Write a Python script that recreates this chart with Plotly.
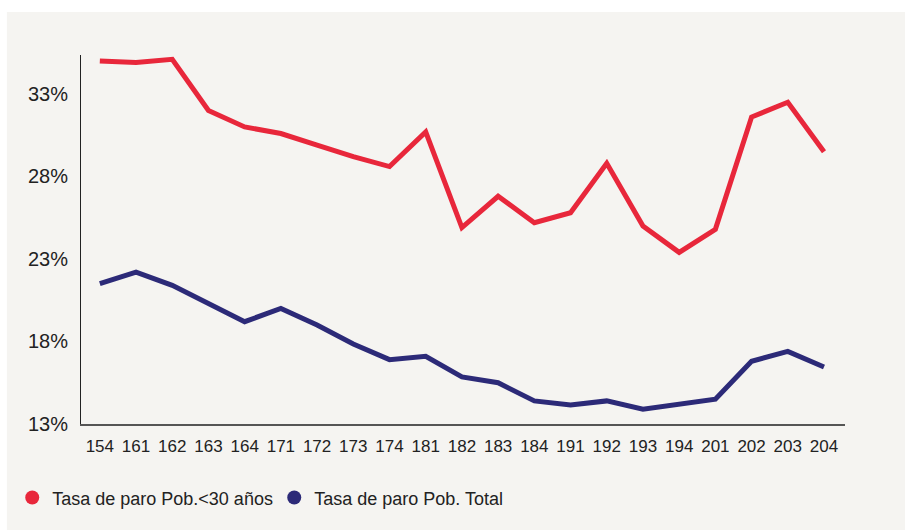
import plotly.graph_objects as go

trimestres = ["154", "161", "162", "163", "164", "171", "172", "173", "174", "181", "182",
              "183", "184", "191", "192", "193", "194", "201", "202", "203", "204"]

# tasa de paro, %
paro_menores_30 = [35.0, 34.9, 35.1, 32.0, 31.0, 30.6, 29.9, 29.2, 28.6, 30.7, 24.9,
                   26.8, 25.2, 25.8, 28.8, 25.0, 23.4, 24.8, 31.6, 32.5, 29.5]
paro_total = [21.5, 22.2, 21.4, 20.3, 19.2, 20.0, 19.0, 17.85, 16.9, 17.1, 15.85,
              15.5, 14.4, 14.15, 14.4, 13.9, 14.2, 14.5, 16.8, 17.4, 16.45]

nombres = ["Tasa de paro Pob.<30 años", "Tasa de paro Pob. Total"]
ROJO = "#E8273B"
AZUL = "#2C2A78"
FONDO = "#F5F4F1"

fig = go.Figure()
for serie, nombre, color in [(paro_menores_30, nombres[0], ROJO), (paro_total, nombres[1], AZUL)]:
    fig.add_trace(go.Scatter(x=trimestres, y=serie, mode="lines", name=nombre,
                             line=dict(color=color, width=5), showlegend=False))
    # entrada de leyenda con circulo
    fig.add_trace(go.Scatter(x=[None], y=[None], mode="markers", name=nombre,
                             marker=dict(color=color, size=14)))

fig.update_layout(
    width=905, height=530,
    margin=dict(l=81, r=60, t=55, b=106),
    paper_bgcolor="white",
    plot_bgcolor=FONDO,
    font=dict(family="Liberation Sans, Arial, sans-serif", color="#222222"),
    showlegend=True,
    legend=dict(orientation="h", x=-0.09, xanchor="left", y=-0.2, yanchor="middle",
                font=dict(size=18), bgcolor="rgba(0,0,0,0)",
                entrywidth=217, entrywidthmode="pixels"),
    shapes=[dict(type="rect", xref="paper", yref="paper", x0=-0.097, x1=1.2, y0=-0.4, y1=1.1165,
                 fillcolor=FONDO, line=dict(width=0), layer="below")],
)
fig.update_xaxes(type="category", range=[-0.52, 20.58], showgrid=False, zeroline=False,
                 showline=True, linecolor="#555555", linewidth=1.5,
                 tickfont=dict(size=17), ticks="", ticklabelstandoff=6)
fig.update_yaxes(range=[13, 35.36], tickvals=[13, 18, 23, 28, 33],
                 ticktext=["13%", "18%", "23%", "28%", "33%"], showgrid=False, zeroline=False,
                 showline=True, linecolor="#222222", linewidth=1,
                 tickfont=dict(size=20), ticks="", ticklabelstandoff=8)

# sin margen del body para que la figura ocupe la ventana exacta
fig.write_html("out.html", config={"displayModeBar": False},
               post_script="document.body.style.margin='0';")
